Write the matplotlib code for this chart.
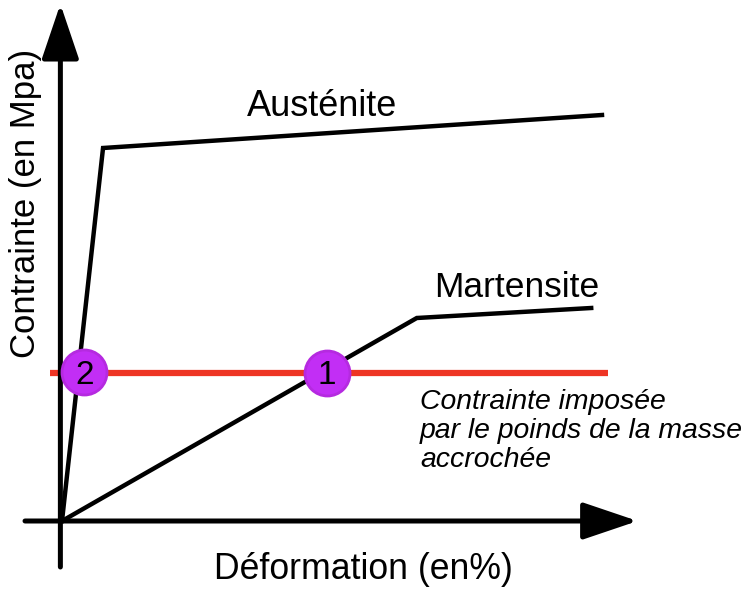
import matplotlib
matplotlib.use("Agg")
import matplotlib.pyplot as plt

plt.rcParams['font.family'] = ['Liberation Sans', 'DejaVu Sans']

# Data (deformation in arbitrary %, stress in arbitrary MPa units)
austenite_x = [0.0, 0.76, 10.0]
austenite_y = [0.0, 373.0, 406.0]
martensite_x = [0.0, 6.57, 9.8]
martensite_y = [0.0, 203.0, 213.0]
imposed_stress = 148.0
imposed_x = [-0.22, 10.11]
points_x = [4.9, 0.41]
points_y = [148.0, 149.0]
points_labels = ["1", "2"]
note_lines = ["Contrainte imposée", "par le poinds de la masse", "accrochée"]

fig = plt.figure(figsize=(7.47, 5.93), dpi=100)
ax = fig.add_axes([0, 0, 1, 1])
ax.set_xlim(-62 / 54, (747 - 62) / 54)
ax.set_ylim(-72, 521)
ax.axis('off')

# axes arrows
arrow_kw = dict(arrowstyle='-|>,head_length=3.4,head_width=1.15', lw=3.6,
                color='black', shrinkA=0, shrinkB=0, mutation_scale=10)
ax.annotate('', xy=(10.66, 0), xytext=(-0.685, 0), arrowprops=arrow_kw)
ax.annotate('', xy=(-0.03, 517), xytext=(-0.03, -46), arrowprops=arrow_kw)

ax.plot(austenite_x, austenite_y, color='black', lw=3.2, solid_joinstyle='miter', zorder=3)
ax.plot(martensite_x, martensite_y, color='black', lw=3.2, solid_joinstyle='miter', zorder=3)
ax.plot(imposed_x, [imposed_stress, imposed_stress], color='#ee3524', lw=4.5,
        solid_capstyle='butt', zorder=2)

ax.scatter(points_x, points_y, s=1050, facecolor='#c22ef5', edgecolor='#b52ae0',
           linewidth=2, zorder=4)
for px, py, lab in zip(points_x, points_y, points_labels):
    ax.text(px, py - 3, lab, fontsize=24, ha='center', va='center', zorder=5)

ax.text(4.815, 405, "Austénite", fontsize=26, ha='center', va='baseline')
ax.text(8.426, 224, "Martensite", fontsize=25.5, ha='center', va='baseline')
for i, line in enumerate(note_lines):
    ax.text(6.63, 112 - 29 * i, line, fontsize=20.4, style='italic',
            ha='left', va='baseline')

ax.text(5.59, -58, "Déformation (en%)", fontsize=25.7, ha='center', va='baseline')
ax.text(-0.37, 318, "Contrainte (en Mpa)", fontsize=25, rotation=90,
        ha='right', va='center')

fig.savefig("out.png", dpi=100)
